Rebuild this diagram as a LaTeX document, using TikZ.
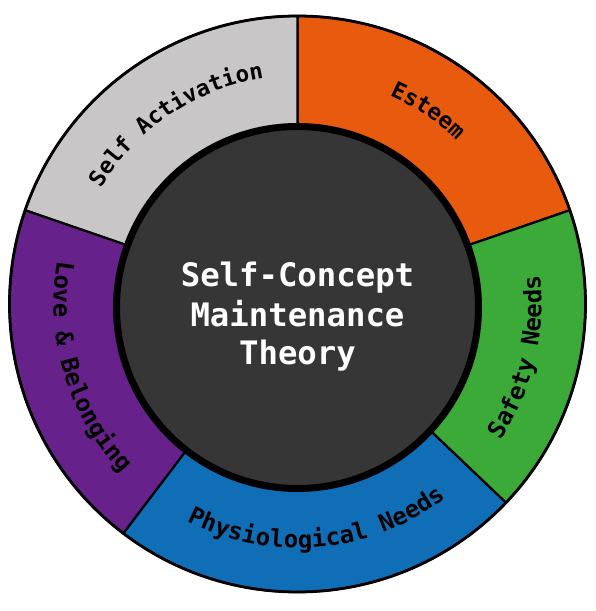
\documentclass[tikz,border=0pt]{standalone}
\usepackage{fontspec}
\usetikzlibrary{decorations.text}
\newfontfamily\dvm{DejaVu Sans Mono}
\definecolor{cself}{HTML}{C8C6C7}
\definecolor{cesteem}{HTML}{E85B0E}
\definecolor{csafety}{HTML}{3BAA38}
\definecolor{cphys}{HTML}{106EB6}
\definecolor{clove}{HTML}{66218A}
\definecolor{ccore}{HTML}{363636}
\tikzset{
  seg/.style={draw=black, line width=2.2pt, line join=round},
  core/.style={circle, draw=black, fill=ccore, line width=7pt, minimum size=362pt, inner sep=0pt},
  title/.style={text=white, font=\dvm\bfseries\fontsize{32.3}{32.3}\selectfont, anchor=base, inner sep=0pt},
}
\newcommand{\labf}{\dvm\bfseries\fontsize{22.5}{22.5}\selectfont}
\newcommand{\labg}{\dvm\bfseries\fontsize{24}{24}\selectfont}
\begin{document}
\begin{tikzpicture}[x=1pt,y=1pt]
\useasboundingbox (0,0) rectangle (595,611);
\coordinate (O) at (297.5,307);
\coordinate (I) at (297.5,303.5);
% segments
\filldraw[seg, fill=cesteem] (O) -- ++(19:288pt) arc[start angle=19, end angle=90, radius=288pt] -- cycle;
\filldraw[seg, fill=cself] (O) -- ++(90:288pt) arc[start angle=90, end angle=161, radius=288pt] -- cycle;
\filldraw[seg, fill=clove] (O) -- ++(161:288pt) arc[start angle=161, end angle=232.8, radius=288pt] -- cycle;
\filldraw[seg, fill=cphys] (O) -- ++(232.8:288pt) arc[start angle=232.8, end angle=316.4, radius=288pt] -- cycle;
\filldraw[seg, fill=csafety] (O) -- ++(316.4:288pt) arc[start angle=316.4, end angle=379, radius=288pt] -- cycle;
\draw[line width=2.8pt] (O) circle[radius=288pt];
% labels
\path[decorate, decoration={text along path, text align=center, text={|\labf|Self Activation}}]
  (O) ++(169:228pt) arc[start angle=169, end angle=79, radius=228pt];
\path[decorate, decoration={text along path, text align=center, text={|\labf|Esteem}}]
  (O) ++(101:228pt) arc[start angle=101, end angle=11, radius=228pt];
\path[decorate, decoration={text along path, text align=center, text={|\labg|Safety Needs}}]
  (O) ++(-58.5:244pt) arc[start angle=-58.5, end angle=31.5, radius=244pt];
\path[decorate, decoration={text along path, text align=center, text={|\labg|Physiological Needs}}]
  (O) ++(-134.8:244pt) arc[start angle=-134.8, end angle=-34.8, radius=244pt];
\path[decorate, decoration={text along path, text align=center, text={|\labg|Love {\&} Belonging}}]
  (O) ++(151.8:244pt) arc[start angle=151.8, end angle=241.8, radius=244pt];
% core
\node[core] (c) at (I) {};
\node[title] (t1) at (297.5,324) {Self-Concept};
\node[title] (t2) at (297.5,284) {Maintenance};
\node[title] (t3) at (297.5,246) {Theory};
\end{tikzpicture}
\end{document}
